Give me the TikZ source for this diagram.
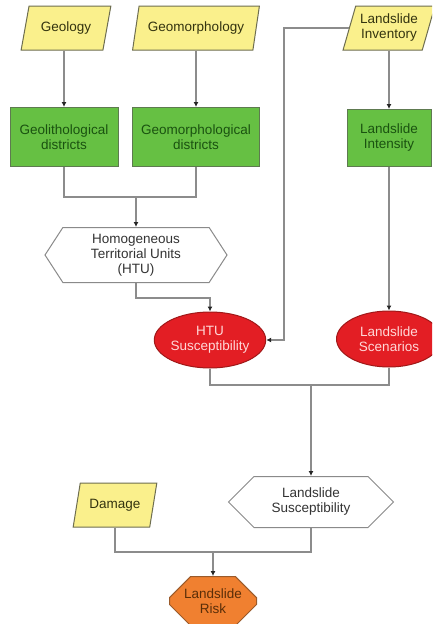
\documentclass[tikz,border=0pt]{standalone}
\usepackage{fontspec}
\setmainfont{Liberation Sans}
\usetikzlibrary{arrows.meta,positioning,shapes.geometric,shapes.symbols,shapes.misc}
\definecolor{datafill}{HTML}{FAF08C}
\definecolor{databorder}{HTML}{6E6E50}
\definecolor{datatext}{HTML}{33330F}
\definecolor{procfill}{HTML}{66C043}
\definecolor{procborder}{HTML}{5E7A50}
\definecolor{proctext}{HTML}{1A5210}
\definecolor{scenfill}{HTML}{E31E24}
\definecolor{scenborder}{HTML}{A01818}
\definecolor{scentext}{HTML}{FFD8D8}
\definecolor{riskfill}{HTML}{F08030}
\definecolor{riskborder}{HTML}{9A5A2A}
\definecolor{risktext}{HTML}{5A2E08}
\definecolor{hexborder}{HTML}{8A8A8A}
\definecolor{linegray}{HTML}{8C8C8C}
\tikzset{
  databox/.style={trapezium, trapezium left angle=69, trapezium right angle=111, trapezium stretches=true, draw=databorder, fill=datafill, text=datatext, align=center, minimum height=44pt, inner sep=1pt, line width=1pt, font=\fontsize{13.5}{15}\selectfont},
  procbox/.style={rectangle, draw=procborder, fill=procfill, text=proctext, align=center, inner sep=0pt, line width=1pt, font=\fontsize{13.5}{15}\selectfont},
  unitbox/.style={signal, signal from=nowhere, signal to=east and west, draw=hexborder, fill=white, text=black!80, align=center, inner sep=0pt, line width=1pt, font=\fontsize{13.5}{15}\selectfont},
  scenbox/.style={ellipse, draw=scenborder, fill=scenfill, text=scentext, align=center, inner sep=0pt, minimum width=105pt, minimum height=56pt, line width=1pt, font=\fontsize{13.5}{15}\selectfont},
  riskbox/.style={chamfered rectangle, chamfered rectangle xsep=9pt, chamfered rectangle ysep=12pt, draw=riskborder, fill=riskfill, text=risktext, align=center, inner sep=0pt, minimum width=87pt, minimum height=44pt, line width=1pt, font=\fontsize{13.5}{15}\selectfont},
  link/.style={draw=linegray, line width=1.2pt},
  flow/.style={link, -{Latex[length=5pt,width=5pt,color=black!85]}}
}
\begin{document}
\begin{tikzpicture}[x=1pt,y=-1pt]
\clip (0,0) rectangle (432,624);
\fill[white] (0,0) rectangle (432,624);
% inputs
\node[databox, minimum width=90pt] (geology) at (66,28) {Geology};
\node[databox, minimum width=127pt] (geomorph) at (196,28) {Geomorphology};
\node[databox, minimum width=92pt] (inventory) at (389,28) {Landslide\\Inventory};
\node[databox, minimum width=84pt] (damage) at (115,505) {Damage};
% processing
\node[procbox, minimum width=108pt, minimum height=59pt] (geolith) at (64,137) {Geolithological\\districts};
\node[procbox, minimum width=127pt, minimum height=59pt] (geomdist) at (196,137) {Geomorphological\\districts};
\node[procbox, minimum width=84pt, minimum height=57pt] (intensity) at (389,138) {Landslide\\Intensity};
\node[unitbox, signal pointer angle=114, minimum width=182pt, minimum height=55pt] (htu) at (136,255) {Homogeneous\\Territorial Units\\(HTU)};
\node[scenbox] (htususc) at (210,340) {HTU\\Susceptibility};
\node[scenbox] (scenarios) at (389,339) {Landslide\\Scenarios};
\node[unitbox, signal pointer angle=90, minimum width=165pt, minimum height=51pt] (lsusc) at (311,502) {Landslide\\Susceptibility};
\node[riskbox] (risk) at (213,601) {Landslide\\Risk};
% junctions
\coordinate (j1) at (136,197);
\coordinate (j2) at (210,298);
\coordinate (j3) at (284,340);
\coordinate (j4) at (311,385);
\coordinate (j5) at (213,552);
% connectors
\draw[flow] (geolith.north |- geology.south) -- (geolith);
\draw[flow] (geomorph) -- (geomdist);
\draw[flow] (inventory) -- (intensity);
\draw[flow] (intensity) -- (scenarios);
\draw[link] (geolith.south) |- (j1) -| (geomdist.south);
\draw[flow] (j1) -- (htu.north);
\draw[flow] (htu.south) |- (j2) -- (htususc.north);
\draw[flow] (inventory.west) -| (j3) -- (htususc.east);
\draw[link] (htususc.south) |- (j4) -| (scenarios.south);
\draw[flow] (j4) -- (lsusc.north);
\draw[link] (damage.south) |- (j5) -| (lsusc.south);
\draw[flow] (j5) -- (risk.north);
\end{tikzpicture}
\end{document}
